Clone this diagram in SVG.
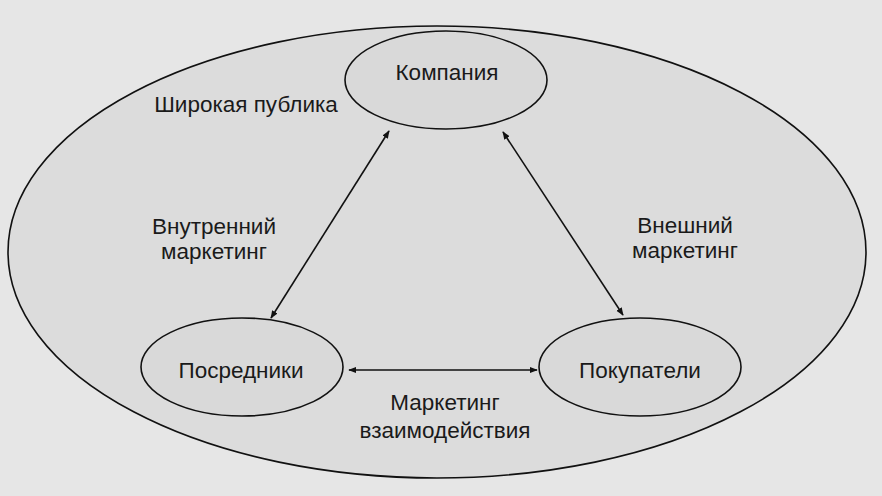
<svg xmlns="http://www.w3.org/2000/svg" width="882" height="496" viewBox="0 0 882 496">
<defs>
<style>
.t{font-family:"Liberation Sans",Arial,sans-serif;font-size:22.5px;fill:#1a1a1a;text-anchor:middle}
.n{fill:#d9d9d9;stroke:#111;stroke-width:1.6}
.c{stroke:#111;stroke-width:1.6;fill:none;marker-start:url(#a);marker-end:url(#a)}
</style>
<marker id="a" viewBox="0 0 10 10" refX="9" refY="5" markerWidth="8" markerHeight="8" orient="auto-start-reverse" markerUnits="userSpaceOnUse">
<path d="M0,1 L10,5 L0,9 z" fill="#111"/>
</marker>
</defs>
<rect width="882" height="496" fill="#e6e6e6"/>
<g id="public">
<ellipse cx="437" cy="252" rx="429" ry="226" fill="#dcdcdc" stroke="#111" stroke-width="1.6"/>
<text class="t" x="246" y="112">Широкая публика</text>
</g>
<g id="company">
<ellipse class="n" cx="446" cy="80" rx="101" ry="49"/>
<text class="t" x="447" y="80">Компания</text>
</g>
<g id="intermediaries">
<ellipse class="n" cx="242" cy="367" rx="101" ry="49"/>
<text class="t" x="241" y="378">Посредники</text>
</g>
<g id="customers">
<ellipse class="n" cx="640" cy="367" rx="101" ry="49"/>
<text class="t" x="640" y="378">Покупатели</text>
</g>
<g id="connectors">
<line class="c" x1="389" y1="131" x2="271" y2="318"/>
<line class="c" x1="503" y1="132" x2="623" y2="315"/>
<line class="c" x1="349" y1="370" x2="537" y2="370"/>
</g>
<g id="labels">
<text class="t" x="214" y="234">Внутренний</text>
<text class="t" x="214" y="259">маркетинг</text>
<text class="t" x="685" y="233">Внешний</text>
<text class="t" x="685" y="258">маркетинг</text>
<text class="t" x="445" y="410">Маркетинг</text>
<text class="t" x="445" y="438">взаимодействия</text>
</g>
</svg>
